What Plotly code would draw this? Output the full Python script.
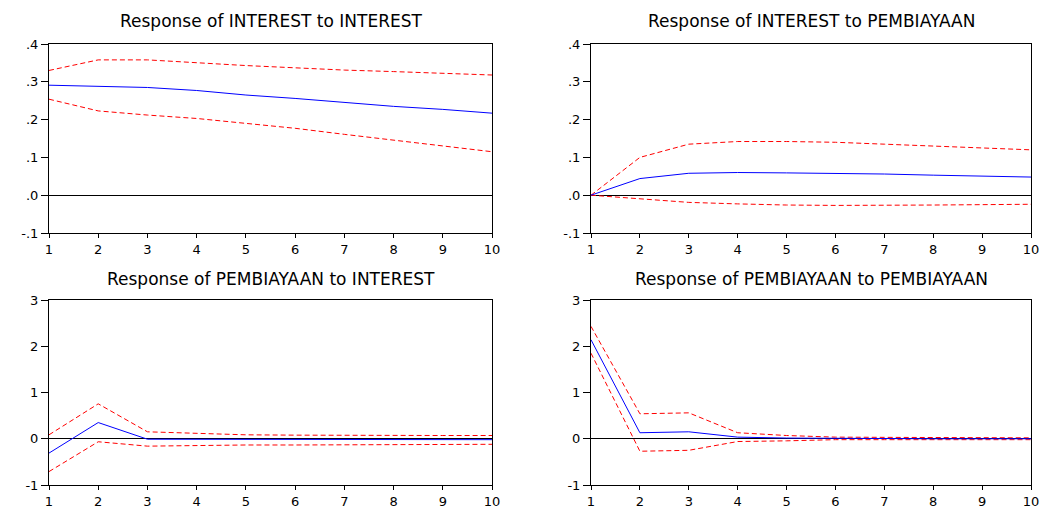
import plotly.graph_objects as go

periods = [1, 2, 3, 4, 5, 6, 7, 8, 9, 10]

# Response of INTEREST to INTEREST
ii_resp = [0.291, 0.289, 0.285, 0.277, 0.265, 0.256, 0.245, 0.235, 0.227, 0.217]
ii_upper = [0.330, 0.358, 0.358, 0.350, 0.343, 0.337, 0.331, 0.327, 0.322, 0.318]
ii_lower = [0.254, 0.223, 0.212, 0.203, 0.190, 0.177, 0.161, 0.146, 0.130, 0.115]

# Response of INTEREST to PEMBIAYAAN
ip_resp = [0.0, 0.044, 0.058, 0.060, 0.059, 0.058, 0.056, 0.053, 0.050, 0.048]
ip_upper = [0.0, 0.100, 0.135, 0.142, 0.142, 0.140, 0.135, 0.130, 0.125, 0.120]
ip_lower = [0.0, -0.010, -0.019, -0.023, -0.026, -0.027, -0.027, -0.026, -0.025, -0.024]

# Response of PEMBIAYAAN to INTEREST
pi_resp = [-0.31, 0.35, -0.01, -0.01, -0.015, -0.02, -0.02, -0.02, -0.02, -0.02]
pi_upper = [0.085, 0.755, 0.15, 0.12, 0.085, 0.078, 0.07, 0.07, 0.07, 0.07]
pi_lower = [-0.71, -0.065, -0.16, -0.14, -0.135, -0.135, -0.13, -0.13, -0.125, -0.12]

# Response of PEMBIAYAAN to PEMBIAYAAN
pp_resp = [2.14, 0.13, 0.15, 0.035, 0.015, 0.005, 0.0, 0.0, 0.0, 0.0]
pp_upper = [2.43, 0.54, 0.56, 0.13, 0.07, 0.035, 0.03, 0.03, 0.025, 0.02]
pp_lower = [1.85, -0.27, -0.25, -0.06, -0.045, -0.02, -0.02, -0.02, -0.02, -0.02]

titles = [
    "Response of INTEREST to INTEREST",
    "Response of INTEREST to PEMBIAYAAN",
    "Response of PEMBIAYAAN to INTEREST",
    "Response of PEMBIAYAAN to PEMBIAYAAN",
]

top_tickvals = [-0.1, 0.0, 0.1, 0.2, 0.3, 0.4]
top_ticktext = ["-.1", ".0", ".1", ".2", ".3", ".4"]
bot_tickvals = [-1, 0, 1, 2, 3]
bot_ticktext = ["-1", "0", "1", "2", "3"]

panels = [
    (ii_resp, ii_upper, ii_lower),
    (ip_resp, ip_upper, ip_lower),
    (pi_resp, pi_upper, pi_lower),
    (pp_resp, pp_upper, pp_lower),
]

W, H = 1046, 511
x_doms = [(49 / W, 492 / W), (591 / W, 1031 / W)]
y_doms = [(1 - 233 / H, 1 - 44 / H), (1 - 485 / H, 1 - 300 / H)]
title_y = [1 - 21 / H, 1 - 279 / H]

fig = go.Figure()
FONT = "DejaVu Sans, Arial, sans-serif"

for i, (resp, up, lo) in enumerate(panels):
    n = i + 1
    xa = "x" if n == 1 else f"x{n}"
    ya = "y" if n == 1 else f"y{n}"
    for vals, color, dash in [(up, "#FF0000", "5px,3px"), (lo, "#FF0000", "5px,3px"), (resp, "#0000FF", "solid")]:
        fig.add_trace(go.Scatter(
            x=periods, y=vals, mode="lines", xaxis=xa, yaxis=ya,
            line=dict(color=color, width=1, dash=dash), showlegend=False,
            hoverinfo="skip",
        ))
    col = i % 2
    row = i // 2
    xd = x_doms[col]
    yd = y_doms[row]
    top = row == 0
    xkey = "xaxis" if n == 1 else f"xaxis{n}"
    ykey = "yaxis" if n == 1 else f"yaxis{n}"
    fig.layout[xkey] = dict(
        domain=list(xd), anchor=ya, range=[1, 10], tickvals=periods,
        showline=True, linecolor="black", linewidth=1, mirror=True,
        ticks="outside", ticklen=4, tickcolor="black", showgrid=False,
        zeroline=False, automargin=False,
        tickfont=dict(family=FONT, size=13, color="black"),
    )
    fig.layout[ykey] = dict(
        domain=list(yd), anchor=xa,
        range=[-0.1, 0.4] if top else [-1, 3],
        tickvals=top_tickvals if top else bot_tickvals,
        ticktext=top_ticktext if top else bot_ticktext,
        showline=True, linecolor="black", linewidth=1, mirror=True,
        ticks="outside", ticklen=7, tickcolor="black", showgrid=False,
        zeroline=True, zerolinecolor="black", zerolinewidth=1,
        automargin=False,
        tickfont=dict(family=FONT, size=13, color="black"),
    )
    fig.add_annotation(
        text=titles[i], xref="paper", yref="paper",
        x=(xd[0] + xd[1]) / 2, y=title_y[row],
        xanchor="center", yanchor="middle", showarrow=False,
        font=dict(family=FONT, size=17, color="black"),
    )

fig.update_layout(
    width=W, height=H, margin=dict(l=0, r=0, t=0, b=0),
    paper_bgcolor="white", plot_bgcolor="white",
)

fig.write_html("out.html")
